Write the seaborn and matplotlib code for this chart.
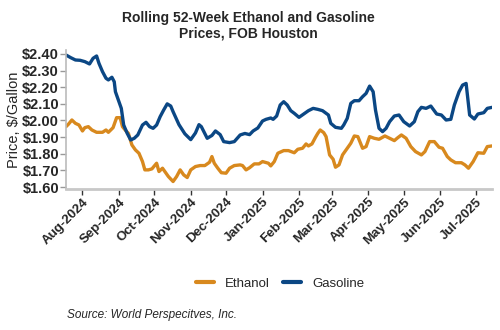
import matplotlib
matplotlib.use("Agg")
import matplotlib.pyplot as plt
import matplotlib.dates as mdates
from matplotlib.lines import Line2D
import seaborn as sns
import pandas as pd

sns.set_theme(style="white")
plt.rcParams['font.family'] = ['Liberation Sans', 'DejaVu Sans']

gas_dates = ["2024-07-18","2024-07-22","2024-07-26","2024-07-30","2024-08-03","2024-08-07","2024-08-10",
    "2024-08-13","2024-08-15","2024-08-18","2024-08-21","2024-08-23","2024-08-26","2024-08-28","2024-08-29",
    "2024-09-01","2024-09-03","2024-09-05","2024-09-08","2024-09-11","2024-09-14","2024-09-17","2024-09-21",
    "2024-09-24","2024-09-27","2024-09-30","2024-10-03","2024-10-06","2024-10-09","2024-10-12","2024-10-15",
    "2024-10-17","2024-10-22","2024-10-27","2024-11-01","2024-11-05","2024-11-08","2024-11-10","2024-11-15",
    "2024-11-19","2024-11-22","2024-11-26","2024-11-29","2024-12-04","2024-12-08","2024-12-13","2024-12-17",
    "2024-12-21","2024-12-24","2024-12-28","2025-01-01","2025-01-04","2025-01-08","2025-01-10","2025-01-13",
    "2025-01-16","2025-01-19","2025-01-22","2025-01-25","2025-01-28","2025-02-01","2025-02-05","2025-02-09",
    "2025-02-13","2025-02-17","2025-02-21","2025-02-26","2025-02-28","2025-03-04","2025-03-09","2025-03-11",
    "2025-03-14","2025-03-17","2025-03-20","2025-03-24","2025-03-27","2025-03-30","2025-04-02","2025-04-05",
    "2025-04-07","2025-04-10","2025-04-13","2025-04-16","2025-04-19","2025-04-23","2025-04-27","2025-05-01",
    "2025-05-06","2025-05-10","2025-05-13","2025-05-16","2025-05-20","2025-05-24","2025-05-29","2025-06-02",
    "2025-06-06","2025-06-10","2025-06-13","2025-06-17","2025-06-20","2025-06-23","2025-06-26","2025-06-30",
    "2025-07-03","2025-07-08","2025-07-11","2025-07-15"]
gas_values = [2.394,2.378,2.364,2.362,2.354,2.340,2.374,
    2.388,2.344,2.294,2.254,2.244,2.260,2.233,2.173,
    2.113,2.073,1.973,1.923,1.883,1.893,1.913,1.973,
    1.989,1.963,1.953,1.973,2.023,2.063,2.100,2.087,
    2.053,1.975,1.920,1.885,1.925,1.975,1.963,1.893,
    1.910,1.937,1.915,1.873,1.867,1.873,1.913,1.922,
    1.915,1.937,1.955,1.997,2.007,2.015,2.007,2.027,
    2.093,2.113,2.093,2.059,2.043,2.019,2.039,2.059,
    2.073,2.067,2.059,2.033,1.983,1.959,1.953,1.973,
    2.013,2.103,2.119,2.119,2.143,2.163,2.207,2.173,
    2.063,1.953,1.933,1.953,1.993,2.027,2.033,1.993,
    1.967,1.993,2.053,2.079,2.073,2.087,2.039,2.033,
    2.003,2.007,2.093,2.173,2.213,2.223,2.033,2.009,
    2.039,2.047,2.073,2.079]

eth_dates = ["2024-07-18","2024-07-20","2024-07-23","2024-07-26","2024-07-29","2024-08-01","2024-08-03",
    "2024-08-06","2024-08-09","2024-08-13","2024-08-18","2024-08-21","2024-08-23","2024-08-27","2024-08-30",
    "2024-09-02","2024-09-04","2024-09-07","2024-09-09","2024-09-12","2024-09-15","2024-09-18","2024-09-21",
    "2024-09-23","2024-09-26","2024-09-29","2024-10-03","2024-10-05","2024-10-08","2024-10-11","2024-10-13",
    "2024-10-17","2024-10-20","2024-10-23","2024-10-26","2024-10-29","2024-11-01","2024-11-05","2024-11-09",
    "2024-11-13","2024-11-17","2024-11-19","2024-11-21","2024-11-24","2024-11-27","2024-12-01","2024-12-04",
    "2024-12-08","2024-12-13","2024-12-15","2024-12-18","2024-12-21","2024-12-25","2024-12-29","2025-01-01",
    "2025-01-06","2025-01-08","2025-01-11","2025-01-14","2025-01-19","2025-01-23","2025-01-28","2025-01-31",
    "2025-02-04","2025-02-07","2025-02-09","2025-02-12","2025-02-15","2025-02-17","2025-02-19","2025-02-22",
    "2025-02-24","2025-02-27","2025-03-02","2025-03-04","2025-03-07","2025-03-10","2025-03-13","2025-03-17",
    "2025-03-20","2025-03-23","2025-03-27","2025-03-30","2025-04-02","2025-04-06","2025-04-10","2025-04-15",
    "2025-04-19","2025-04-23","2025-04-26","2025-04-29","2025-05-03","2025-05-07","2025-05-11","2025-05-16",
    "2025-05-19","2025-05-23","2025-05-27","2025-05-31","2025-06-03","2025-06-07","2025-06-10","2025-06-14",
    "2025-06-19","2025-06-22","2025-06-25","2025-06-29","2025-07-03","2025-07-08","2025-07-11","2025-07-15"]
eth_values = [1.963,1.977,2.003,1.983,1.973,1.937,1.957,
    1.963,1.943,1.929,1.929,1.943,1.929,1.957,2.017,
    2.017,1.963,1.937,1.923,1.853,1.823,1.803,1.753,
    1.703,1.703,1.709,1.743,1.693,1.713,1.683,1.663,
    1.633,1.663,1.703,1.673,1.657,1.703,1.723,1.729,
    1.729,1.749,1.783,1.743,1.713,1.686,1.683,1.713,
    1.729,1.733,1.729,1.703,1.716,1.739,1.739,1.753,
    1.743,1.727,1.753,1.803,1.819,1.819,1.806,1.827,
    1.833,1.859,1.847,1.859,1.899,1.923,1.943,1.927,
    1.903,1.793,1.767,1.719,1.733,1.793,1.823,1.863,
    1.907,1.903,1.833,1.843,1.903,1.893,1.887,1.907,
    1.893,1.879,1.897,1.913,1.893,1.843,1.813,1.793,
    1.813,1.873,1.873,1.839,1.833,1.783,1.763,1.746,
    1.746,1.733,1.713,1.753,1.806,1.803,1.843,1.847]

series_names = ["Ethanol", "Gasoline"]
series_colors = ["#D8891E", "#0B4784"]

df = pd.concat([
    pd.DataFrame({"date": pd.to_datetime(eth_dates), "price": eth_values, "series": "Ethanol"}),
    pd.DataFrame({"date": pd.to_datetime(gas_dates), "price": gas_values, "series": "Gasoline"}),
])

fig = plt.figure(figsize=(5, 3.3), dpi=100)
ax = fig.add_axes([66/500, 1-189/330, (492-66)/500, (189-50)/330])

sns.lineplot(data=df, x="date", y="price", hue="series", hue_order=series_names,
             palette=dict(zip(series_names, series_colors)), linewidth=2.4, ax=ax, legend=False)

ax.set_xlim(pd.Timestamp("2024-07-18"), pd.Timestamp("2025-07-15"))
ax.set_ylim(1.588, 2.424)
ax.set_yticks([1.6, 1.7, 1.8, 1.9, 2.0, 2.1, 2.2, 2.3, 2.4])
ax.yaxis.set_major_formatter(matplotlib.ticker.FuncFormatter(lambda v, p: f"${v:.2f}"))
ax.xaxis.set_major_locator(mdates.MonthLocator(bymonthday=1))
ax.xaxis.set_major_formatter(mdates.DateFormatter("%b-%Y"))

for lab in ax.get_yticklabels():
    lab.set_fontweight("bold")
    lab.set_fontsize(10.5)
for lab in ax.get_xticklabels():
    lab.set_fontweight("bold")
    lab.set_fontsize(9.5)
    lab.set_rotation(45)
    lab.set_ha("right")
    lab.set_rotation_mode("anchor")

ax.tick_params(axis="y", which="major", length=4, width=1, color="#999999", pad=1, left=True)
ax.tick_params(axis="x", which="major", length=4, width=1, color="#333333", pad=1, bottom=True)
ax.set_xlabel("")
ax.set_ylabel("Price, $/Gallon", fontsize=10.5, labelpad=1)

for s in ["top", "right"]:
    ax.spines[s].set_visible(False)
ax.spines["left"].set_color("#bbbbbb")
ax.spines["left"].set_linewidth(1.2)
ax.spines["bottom"].set_color("#c8c8c8")
ax.spines["bottom"].set_linewidth(2)
ax.grid(False)

fig.text(0.496, 0.922, "Rolling 52-Week Ethanol and Gasoline\nPrices, FOB Houston",
         ha="center", va="center", fontsize=10, fontweight="bold", linespacing=1.2)

handles = [Line2D([0], [0], color=c, lw=3) for c in series_colors]
fig.legend(handles, series_names, loc="center", bbox_to_anchor=(0.56, 0.14), ncol=2,
           frameon=False, fontsize=9.5, handlelength=1.4, columnspacing=1.0, handletextpad=0.8)

fig.text(0.134, 0.045, "Source: World Perspecitves, Inc.", fontsize=8.5, style="italic",
         ha="left", va="center")

fig.savefig("out.png", dpi=100)
